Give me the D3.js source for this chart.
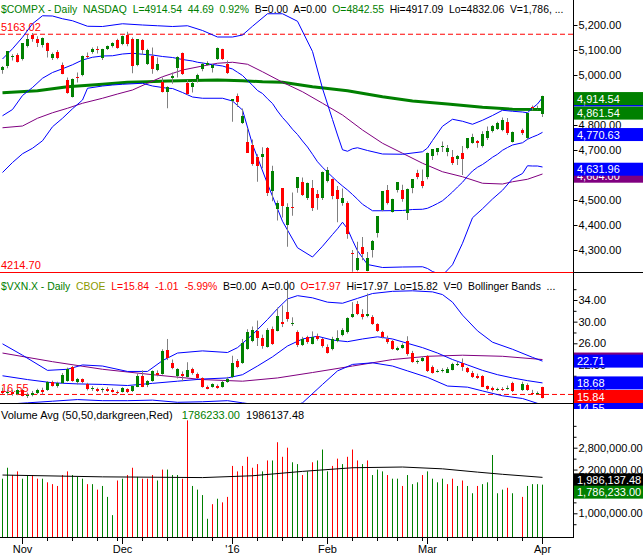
<!DOCTYPE html>
<html><head><meta charset="utf-8">
<script src="https://cdnjs.cloudflare.com/ajax/libs/d3/7.8.5/d3.min.js"></script>
<style>
html,body{margin:0;padding:0;background:#fff;}
svg{display:block;}
text{font-family:"Liberation Sans",Arial,sans-serif;white-space:pre;}
</style></head><body>
<svg id="chart" width="643" height="555"></svg>
<script>
// ---------- categories (trading-day slots) ----------
const dates = [
"2015-10-27","2015-10-28","2015-10-29","2015-10-30",
"2015-11-02","2015-11-03","2015-11-04","2015-11-05","2015-11-06",
"2015-11-09","2015-11-10","2015-11-11","2015-11-12","2015-11-13",
"2015-11-16","2015-11-17","2015-11-18","2015-11-19","2015-11-20",
"2015-11-23","2015-11-24","2015-11-25","2015-11-27","2015-11-30",
"2015-12-01","2015-12-02","2015-12-03","2015-12-04",
"2015-12-07","2015-12-08","2015-12-09","2015-12-10","2015-12-11",
"2015-12-14","2015-12-15","2015-12-16","2015-12-17","2015-12-18",
"2015-12-21","2015-12-22","2015-12-23","2015-12-24",
"2015-12-28","2015-12-29","2015-12-30","2015-12-31",
"2016-01-04","2016-01-05","2016-01-06","2016-01-07","2016-01-08",
"2016-01-11","2016-01-12","2016-01-13","2016-01-14","2016-01-15",
"2016-01-19","2016-01-20","2016-01-21","2016-01-22",
"2016-01-25","2016-01-26","2016-01-27","2016-01-28","2016-01-29",
"2016-02-01","2016-02-02","2016-02-03","2016-02-04","2016-02-05",
"2016-02-08","2016-02-09","2016-02-10","2016-02-11","2016-02-12",
"2016-02-16","2016-02-17","2016-02-18","2016-02-19",
"2016-02-22","2016-02-23","2016-02-24","2016-02-25","2016-02-26",
"2016-02-29",
"2016-03-01","2016-03-02","2016-03-03","2016-03-04",
"2016-03-07","2016-03-08","2016-03-09","2016-03-10","2016-03-11",
"2016-03-14","2016-03-15","2016-03-16","2016-03-17","2016-03-18",
"2016-03-21","2016-03-22","2016-03-23","2016-03-24","2016-03-25",
"2016-03-28","2016-03-29","2016-03-30","2016-03-31",
"2016-04-01"];
const monthTickDates = ["2015-11-02","2015-12-01","2016-01-04","2016-02-01","2016-03-01","2016-04-01"];
const monthTickLabels = ["Nov","Dec","'16","Feb","Mar","Apr"];

// ---------- $COMPX OHLC ----------
const compxOpen = [5020,5035,5073,5082, 5065,5115,5160,5143,5120, 5127,5070,5093,5040,4980, 4914,4991,5000,5077,5093, 5104,5067,5103,5116,5140,
5124,5160,5144,5040, 5140,5043,5076,5020,4973, 4933,4990,5027,5087,4967, 4953,4983,5023,5042, 5030,5063,5103,5044,
4897,4916,4809,4733,4720, 4673,4673,4707,4537,4464, 4547,4400,4473,4547, 4573,4507,4547,4525,4507,
4577,4583,4540,4487,4489, 4290,4220,4313,4218,4300, 4367,4460,4540,4453, 4540,4540,4447,4547,4609, 4577,
4591,4676,4693,4715, 4694,4673,4664,4687,4707, 4729,4736,4716,4747,4777, 4783,4780,4813,4733,null, 4779,4750,4874,4868, 4842.55];
const compxHigh = [5036,5096,5083,5087, 5128,5160,5168,5155,5150, 5130,5090,5100,5050,4990, 4986,5010,5078,5090,5110, 5115,5105,5118,5131,5145,
5158,5173,5150,5143, 5143,5105,5110,5070,4990, 4955,5010,5075,5090,4980, 4975,5005,5050,5055, 5045,5110,5105,5058,
4903,4926,4866,4788,4742, 4683,4711,4712,4637,4498, 4547,4487,4530,4592, 4590,4570,4580,4540,4614,
4632,4586,4556,4546,4495, 4300,4333,4352,4292,4340, 4436,4535,4560,4505, 4572,4561,4546,4583,4621, 4622,
4690,4704,4707,4734, 4720,4700,4680,4716,4748, 4765,4740,4775,4794,4800, 4813,4830,4828,4774,null, 4786,4849,4878,4877, 4917.09];
const compxLow = [5005,5027,5058,5050, 5058,5110,5133,5112,5110, 5070,5060,5063,5003,4925, 4910,4970,4995,5066,5085, 5086,5060,5100,5110,5105,
5119,5115,5007,5035, 5080,5040,5005,5015,4930, 4867,4965,4990,5000,4920, 4930,4970,5015,5038, 5010,5060,5060,5004,
4813,4872,4804,4688,4637, 4573,4627,4516,4495,4418, 4430,4313,4437,4529, 4516,4500,4456,4461,4500,
4570,4503,4411,4477,4345, 4213,4215,4259,4215,4270, 4350,4455,4482,4450, 4530,4493,4420,4527,4583, 4547,
4583,4660,4679,4692, 4675,4640,4640,4600,4703, 4725,4709,4710,4740,4770, 4780,4775,4760,4730,null, 4760,4742,4859,4862, 4832.06];
const compxClose = [5030.15,5095.69,5074.27,5053.75, 5127.15,5145.13,5142.48,5127.74,5147.12, 5095.30,5083.24,5067.02,5005.08,4927.88,
4984.62,4986.02,5075.20,5073.64,5104.92, 5102.48,5102.81,5116.14,5127.52,5108.67,
5156.31,5123.22,5037.53,5142.27, 5101.81,5098.24,5022.87,5045.17,4933.47, 4952.23,4995.13,5071.13,5002.55,4923.08,
4968.92,5001.11,5045.93,5048.49, 5040.99,5107.94,5065.85,5007.41,
4903.09,4891.43,4835.76,4689.43,4643.63, 4637.99,4685.92,4526.06,4615.00,4488.42, 4476.95,4471.69,4472.06,4591.18,
4518.49,4567.67,4468.17,4506.68,4613.95,
4620.37,4516.95,4504.24,4509.56,4363.14, 4283.59,4268.76,4283.75,4266.84,4337.51, 4435.96,4534.06,4487.54,4504.43,
4570.61,4503.58,4542.61,4582.21,4590.47, 4557.95,
4689.60,4703.42,4707.42,4717.02, 4708.25,4648.82,4674.38,4662.16,4748.47, 4750.28,4728.67,4763.97,4774.99,4795.65,
4808.87,4821.66,4768.86,4773.50,null, 4766.79,4846.62,4869.29,4869.85, 4914.54];

// overlays: [slot, value]
const compxBBUpper = [[0,5064],[2,5105],[4,5151],[6,5205],[8,5237],[10,5236],[12,5225],[14,5217],[17,5195],[20,5194],[24,5205],[28,5200],[31,5197],[34,5194],[37,5197],[40,5178],[43,5152],[46,5152],[48,5160],[50,5195],[53,5245],[56,5245],[59,5215],[62,5094],[64,4946],[66,4822],[67,4760],[68,4701],[69,4695],[70,4705],[71,4709],[73,4698],[76,4684],[80,4683],[84,4693],[85,4708],[86,4738],[88,4795],[90,4823],[92,4815],[94,4803],[96,4819],[98,4838],[100,4859],[102,4855],[104,4852],[105,4849],[106,4868],[107,4884],[108,4910]];
const compxBBMid = [[0,4837],[2,4862],[4,4918],[6,4950],[8,4987],[10,5010],[12,5025],[14,5041],[16,5060],[18,5071],[20,5076],[22,5077],[24,5084],[26,5087],[28,5083],[30,5080],[32,5074],[34,5070],[36,5062],[38,5056],[39,5051],[41,5045],[44,5036],[46,5024],[47,5011],[48,4998],[49,4978],[50,4959],[51,4938],[52,4926],[53,4905],[54,4886],[55,4856],[56,4830],[57,4808],[58,4783],[59,4762],[60,4736],[61,4712],[62,4683],[63,4653],[64,4631],[65,4611],[66,4592],[67,4573],[68,4556],[69,4540],[70,4522],[71,4503],[72,4483],[73,4470],[74,4457],[76,4457],[80,4458],[82,4462],[84,4463],[85,4467],[86,4476],[87,4486],[88,4497],[89,4514],[90,4532],[91,4552],[92,4571],[93,4595],[94,4616],[95,4631],[96,4642],[97,4656],[98,4671],[99,4683],[100,4699],[101,4710],[102,4720],[104,4729],[105,4743],[106,4752],[107,4760],[108,4770.63]];
const compxBBLower = [[0,4610],[2,4650],[4,4685],[6,4707],[8,4737],[10,4793],[12,4827],[14,4865],[16,4900],[17,4947],[20,4956],[22,4960],[24,4963],[28,4967],[30,4956],[33,4947],[34,4946],[36,4930],[38,4912],[40,4907],[44,4907],[46,4896],[48,4860],[50,4722],[53,4565],[56,4415],[59,4309],[62,4272],[64,4315],[66,4362],[67,4385],[68,4411],[69,4385],[70,4339],[71,4297],[73,4242],[76,4230],[80,4232],[84,4233],[85,4226],[86,4214],[88,4199],[90,4241],[92,4327],[94,4429],[96,4465],[98,4504],[100,4539],[102,4585],[104,4606],[105,4637],[106,4636],[107,4636],[108,4631.96]];
const compxSMA50 = [[0,4789],[4,4796],[7,4827],[10,4849],[13,4867],[16,4887],[20,4907],[23,4924],[26,4940],[29,4967],[32,4993],[36,5020],[40,5036],[43,5047],[46,5051],[49,5043],[52,5013],[56,4971],[60,4933],[64,4887],[68,4840],[72,4780],[76,4727],[80,4687],[84,4647],[88,4613],[92,4593],[96,4567],[100,4564],[102,4573],[105,4583],[108,4604]];
const compxSMA200 = [[0,4929],[7,4937],[13,4953],[20,4963],[25,4971],[29,4973],[33,4976],[43,4980],[48,4977],[52,4973],[56,4971],[62,4953],[69,4937],[76,4913],[82,4896],[89,4884],[96,4871],[102,4863],[108,4861.54]];
const compxMarks = {high:5163.02, low:4214.70};

// ---------- $VXN.X OHLC ----------
const vxnOpen = [17.2,16.9,17.0,16.6,17.3,16.3,16.4,16.8,17.4,17.3, 18.8,18.2,18.6,19.0,21.6,18.8,19.4,18.5,17.6,17.6,
17.4,17.6,17.3,17.0,17.0,17.6,17.2,18.0,20.0,18.3, 19.0,20.6,20.3,24.8,22.3,19.9,20.3,19.8,21.3,20.4,
19.5,17.9,18.0,18.2,17.9,18.9,19.7,22.8,22.4,25.0, 26.5,28.2,27.0,25.4,28.6,28.3,30.0,31.7,29.6,28.0,
25.6,27.2,25.9,27.4,26.8,25.4,24.9,26.5,27.6,28.0, 30.9,33.2,31.5,31.0,30.9,29.5,28.1,26.8,26.4,24.8,
25.2,26.5,24.3,22.5,22.8,23.6,21.6,20.8,20.9,20.6, 21.1,22.1,22.3,21.4,20.6,19.9,19.9,18.1,17.8,17.3,
17.6,17.5,18.7,null,17.3,18.3,16.9,16.7,17.97];
const vxnHigh = [17.8,17.5,17.4,17.6,17.6,16.9,17.2,17.6,17.8,19.0, 19.1,18.9,20.5,21.5,21.8,19.6,19.5,18.7,18.1,17.8,
17.8,17.9,17.7,17.3,17.9,17.7,18.2,20.4,21.0,19.2, 21.0,21.0,24.9,26.8,23.0,21.4,20.8,22.5,21.5,20.6,
19.7,18.2,18.6,18.4,19.1,19.8,23.7,23.1,26.8,28.6, 29.1,30.2,27.6,28.8,29.1,32.6,33.0,37.6,30.8,28.4,
27.2,27.4,28.2,27.8,27.0,25.8,27.2,28.4,28.8,30.8, 33.6,33.8,32.3,35.2,31.2,29.7,28.3,27.4,26.6,25.4,
26.0,27.3,24.6,23.0,23.6,23.8,21.9,21.2,21.4,21.6, 22.4,22.6,23.2,21.6,20.9,20.4,20.1,18.2,18.0,17.8,
17.9,18.2,18.9,null,18.9,18.6,17.4,17.1,17.97];
const vxnLow = [16.6,16.4,16.3,16.4,16.2,15.9,16.2,16.6,16.6,17.2, 18.0,17.8,18.5,18.9,18.9,18.4,18.6,17.3,17.2,17.0,
16.9,17.0,16.9,16.6,16.9,16.8,17.0,17.9,17.9,17.9, 18.9,19.9,20.2,22.9,21.2,19.5,19.0,19.7,20.2,19.4,
17.8,17.5,17.8,17.6,17.8,18.7,19.6,21.4,22.2,24.8, 26.2,25.5,25.0,25.2,25.7,28.2,29.0,30.0,29.2,25.3,
25.5,25.9,25.8,26.5,25.2,24.1,24.7,26.2,27.3,27.8, 30.7,31.2,30.4,30.8,29.4,28.1,26.9,25.9,24.8,24.6,
25.0,23.7,22.4,22.2,22.6,20.7,20.4,20.6,20.6,20.5, 21.0,21.8,20.9,20.5,19.6,19.4,17.9,17.3,17.1,17.2,
17.2,17.4,17.0,null,17.2,17.2,16.7,16.6,15.82];
const vxnClose = [16.9,17.0,16.6,17.3,16.3,16.4,16.8,17.4,17.0,18.9, 18.2,18.6,20.2,21.2,19.0,19.4,18.8,17.5,17.8,17.2,
17.5,17.1,17.0,16.9,17.7,17.0,18.1,20.0,18.0,19.0, 20.8,20.2,24.5,23.2,21.5,21.2,20.0,21.0,20.5,19.6,
17.9,17.6,18.4,17.8,18.9,19.4,22.4,21.6,26.0,28.0, 28.4,27.0,25.5,28.5,25.8,31.0,29.5,30.5,29.8,25.6,
26.8,26.3,27.2,26.8,25.5,24.3,26.8,27.0,28.5,30.6, 31.4,31.4,30.9,31.5,29.6,28.3,27.1,26.2,25.0,25.1,
25.7,24.0,22.6,22.7,23.2,20.9,20.6,20.9,21.0,21.2, 22.2,22.1,21.6,20.7,19.8,19.6,18.0,17.5,17.3,17.5,
17.4,17.8,17.1,null,18.5,17.3,16.8,16.85,15.84];
const vxnBBUpper = [[0,25.9],[4,23.8],[9,21.0],[13,21.2],[16,22.0],[20,21.8],[25,20.8],[29,20.8],[32,22.8],[35,24.2],[40,24.6],[45,24.3],[47,25.2],[50,27.6],[53,30.4],[55,32.4],[57,34.2],[59,34.8],[62,34.4],[65,33.6],[68,33.4],[71,34.3],[74,35.2],[78,35.6],[82,35.7],[86,35.5],[88,35.0],[90,33.6],[92,31.2],[95,28.3],[98,26.2],[102,24.9],[106,23.4],[108,22.71]];
const vxnBBMid = [[0,20.0],[5,19.3],[10,18.7],[15,18.5],[20,18.4],[25,18.2],[30,18.6],[35,19.0],[40,19.4],[45,19.6],[48,20.2],[51,21.8],[54,23.5],[57,25.5],[60,26.8],[63,27.3],[66,26.6],[69,26.3],[72,26.8],[75,27.2],[78,26.8],[81,26.0],[84,25.2],[87,24.2],[90,23.0],[93,22.0],[96,21.0],[99,20.2],[102,19.6],[105,19.1],[108,18.68]];
const vxnBBLower = [[0,14.7],[5,15.0],[10,15.3],[15,15.6],[20,15.4],[25,15.4],[30,15.5],[35,15.1],[40,15.2],[45,15.4],[48,15.0],[51,14.6],[54,14.2],[57,14.1],[60,15.0],[64,18.4],[67,20.9],[70,22.1],[74,22.4],[78,21.8],[81,20.9],[85,19.7],[89,18.1],[93,17.9],[96,17.2],[100,16.3],[104,15.8],[108,14.6]];
const vxnSMA50 = [[0,24.2],[10,22.6],[20,21.2],[30,20.2],[40,19.3],[48,19.0],[55,19.6],[62,20.6],[70,21.8],[78,23.0],[85,23.6],[92,23.8],[100,23.6],[108,23.0]];
const vxnMark = 16.55;
const vxnLowerBandLabel = 14.55;

// ---------- $COMPX volume ----------
const volume = [1950000,2250000,2050000,2150000,
1950000,2050000,2050000,1950000,1950000, 1850000,1800000,1750000,2050000,2150000,
2050000,2000000,1950000,1800000,1800000, 1650000,1750000,1450000,950000,1900000,
1950000,2050000,2250000,2000000, 1950000,1950000,2050000,1900000,2200000,
2200000,2050000,2050000,1950000,3550000, 1750000,1650000,1500000,850000,
1250000,1400000,1300000,1450000,
2300000,2150000,2300000,2550000,2250000, 2350000,2150000,2450000,2450000,2950000,
2550000,2800000,2400000,2350000, 2050000,2150000,2400000,2450000,2750000,
2150000,2300000,2500000,2350000,2550000, 2750000,2450000,2350000,2450000,2050000,
2200000,2150000,2050000,1950000, 1950000,1750000,2050000,1800000,1850000, 2050000,
2150000,1950000,1850000,1950000, 1800000,1950000,1750000,1900000,1750000,
1550000,1750000,1800000,1850000,2600000, 1550000,1650000,1700000,1550000,null,
1450000,1750000,1800000,1800000,1786233];
const volumeAvg50 = [[0,2050000],[20,2000000],[40,1980000],[50,2030000],[60,2150000],[70,2250000],[80,2270000],[88,2220000],[95,2130000],[100,2070000],[108,1986137.48]];

// ---------- axis ticks ----------
const priceTicks = [5200,5100,5000,4900,4800,4700,4600,4500,4400,4300];
const vxnTicks = [34,30,26,22,18];
const vxnMinorTicks = [36,32,28,24,20,16];
const volTicks = [2800000,2200000,1600000,1000000];
const volMinorTicks = [3400000,3100000,2500000,1900000,1300000,700000];

// ================= drawing =================
const GREEN = "#008000", RED = "#ff0000", BLUE = "#0000ff", PURPLE = "#800080", WICK = "#808080";
const svg = d3.select("#chart");
const AXIS_X = 573.5;
const FS = 11, HFS = 10.4;

const x = d3.scaleLinear().domain([0, dates.length - 1]).range([2, 542]);
const yP = d3.scaleLinear().domain([4300, 5200]).range([250, 25]);
const yV = d3.scaleLinear().domain([26, 34]).range([343.3, 300]);
const yQ = d3.scaleLinear().domain([1000000, 2800000]).range([513.3, 447.7]);

const panels = {p1:[0,272], p2:[273,403], p3:[404,537], box2:[273,409]};
const defs = svg.append("defs");
Object.entries(panels).forEach(([id,[a,b]]) => {
  defs.append("clipPath").attr("id","clip-"+id).append("rect").attr("x",0).attr("y",a).attr("width",643).attr("height",b-a);
});
const g1 = svg.append("g").attr("clip-path","url(#clip-p1)");
const g2 = svg.append("g").attr("clip-path","url(#clip-p2)");
const g3 = svg.append("g").attr("clip-path","url(#clip-p3)");

function drawLine(g, pts, y, color, width) {
  g.append("path").datum(pts)
    .attr("d", d3.line().x(d => x(d[0]) + 0.5).y(d => y(d[1])))
    .attr("fill","none").attr("stroke",color).attr("stroke-width",width)
    .attr("stroke-linejoin","round");
}
function drawCandles(g, O, Hh, L, C, y) {
  const idx = d3.range(dates.length).filter(i => C[i] != null);
  g.append("g").selectAll("line").data(idx).join("line")
    .attr("x1", i => x(i) + 0.5).attr("x2", i => x(i) + 0.5)
    .attr("y1", i => y(Hh[i])).attr("y2", i => y(L[i]))
    .attr("stroke", WICK).attr("stroke-width", 1);
  g.append("g").selectAll("rect").data(idx).join("rect")
    .attr("x", i => x(i) - 1).attr("width", 3)
    .attr("y", i => Math.min(y(O[i]), y(C[i])))
    .attr("height", i => Math.max(1, Math.abs(y(O[i]) - y(C[i]))))
    .attr("fill", i => C[i] >= O[i] ? GREEN : RED)
    .attr("shape-rendering","crispEdges");
}
function dashed(g, yPix, color) {
  g.append("line").attr("x1",0).attr("x2",573).attr("y1",yPix).attr("y2",yPix)
    .attr("stroke",color).attr("stroke-width",1).attr("stroke-dasharray","5,3");
}
function label(g, xx, yy, txt, color, size) {
  return g.append("text").attr("x",xx).attr("y",yy).attr("font-size",size || FS)
    .attr("fill",color).text(txt);
}

// ---- panel 1: $COMPX ----
label(g1, 1, 31, compxMarks.high.toFixed(2), RED);
label(g1, 1, 269, compxMarks.low.toFixed(2), RED);
dashed(g1, yP(compxMarks.high), RED);
drawLine(g1, compxSMA200, yP, GREEN, 3);
drawLine(g1, compxSMA50, yP, PURPLE, 1);
drawLine(g1, compxBBUpper, yP, BLUE, 1);
drawLine(g1, compxBBMid, yP, BLUE, 1);
drawLine(g1, compxBBLower, yP, BLUE, 1);
drawCandles(g1, compxOpen, compxHigh, compxLow, compxClose, yP);

// ---- panel 2: $VXN.X ----
label(g2, 1, 392, vxnMark.toFixed(2), RED);
dashed(g2, yV(vxnMark), RED);
drawLine(g2, vxnSMA50, yV, PURPLE, 1);
drawLine(g2, vxnBBUpper, yV, BLUE, 1);
drawLine(g2, vxnBBMid, yV, BLUE, 1);
drawLine(g2, vxnBBLower, yV, BLUE, 1);
drawCandles(g2, vxnOpen, vxnHigh, vxnLow, vxnClose, yV);

// ---- panel 3: volume ----
const vIdx = d3.range(dates.length).filter(i => volume[i] != null);
g3.append("g").selectAll("line").data(vIdx).join("line")
  .attr("x1", i => x(i) + 0.5).attr("x2", i => x(i) + 0.5)
  .attr("y1", i => yQ(volume[i])).attr("y2", 537)
  .attr("stroke", i => {
    let p = i - 1; while (p >= 0 && compxClose[p] == null) p--;
    const ref = p >= 0 ? compxClose[p] : compxOpen[i];
    return compxClose[i] >= ref ? GREEN : RED;
  }).attr("stroke-width",1);
drawLine(g3, volumeAvg50, yQ, "#000", 1);

// ---- headers ----
function header(yy, parts, size) {
  const t = svg.append("text").attr("x",1).attr("y",yy).attr("font-size",size);
  parts.forEach(([s,c]) => t.append("tspan").attr("fill",c).text(s));
}
header(13, [["$COMPX - Daily",GREEN],["  NASDAQ",GREEN],["  L=4914.54  44.69  0.92%",GREEN],["  B=0.00  A=0.00","#000"],["  O=4842.55",GREEN],["  Hi=4917.09  Lo=4832.06  V=1,786, ...","#000"]], HFS);
header(290, [["$VXN.X - Daily",GREEN],["  CBOE","#8c9a00"],["  L=15.84  -1.01  -5.99%",RED],["  B=0.00  A=0.00","#000"],["  O=17.97",RED],["  Hi=17.97  Lo=15.82  V=0  Bollinger Bands  ...","#000"]], HFS);
header(419, [["Volume Avg (50,50,darkgreen,Red)","#000"],["   1786233.00",GREEN],["  1986137.48","#000"]], FS);

// ---- frame lines ----
svg.append("line").attr("x1",AXIS_X).attr("x2",AXIS_X).attr("y1",0).attr("y2",538).attr("stroke","#000");
// price-panel floor: the red low-mark line sits on the panel border
svg.append("line").attr("x1",0).attr("x2",AXIS_X).attr("y1",272.5).attr("y2",272.5).attr("stroke",RED);
svg.append("line").attr("x1",AXIS_X).attr("x2",643).attr("y1",272.5).attr("y2",272.5).attr("stroke","#000");
svg.append("line").attr("x1",0).attr("x2",643).attr("y1",403.5).attr("y2",403.5).attr("stroke","#000");
svg.append("line").attr("x1",0).attr("x2",AXIS_X).attr("y1",537.5).attr("y2",537.5).attr("stroke","#000");

// ---- right axes ----
function rightAxis(scale, ticks, fmt, size) {
  const ax = d3.axisRight(scale).tickValues(ticks).tickSize(size).tickPadding(1).tickFormat(fmt);
  const g = svg.append("g").attr("transform",`translate(${AXIS_X},0)`).call(ax);
  g.select(".domain").remove();
  g.attr("font-size",FS).attr("font-family","Liberation Sans, Arial, sans-serif");
  g.selectAll("text").attr("fill","#000");
  return g;
}
rightAxis(yP, priceTicks, d3.format(",.2f"), 4);
rightAxis(yV, vxnTicks, d3.format(",.2f"), 4);
rightAxis(yV, vxnMinorTicks, () => "", 3);
rightAxis(yQ, volTicks, d3.format(",.2f"), 4);
rightAxis(yQ, volMinorTicks, () => "", 3);

// ---- value boxes ----
function valueBox(yPix, txt, bg, clip) {
  const g = svg.append("g");
  if (clip) g.attr("clip-path", "url(#clip-" + clip + ")");
  g.append("rect").attr("x",574).attr("y",yPix).attr("width",69).attr("height",13).attr("fill",bg);
  g.append("text").attr("x",577).attr("y",yPix+10.5).attr("font-size",FS).attr("fill","#fff").text(txt);
}
const f2 = d3.format(",.2f");
const lastOf = a => a[a.length-1][1];
valueBox(yP(lastOf(compxBBUpper)) - 4, f2(lastOf(compxBBUpper)), BLUE);
valueBox(yP(compxClose[108]) - 4.3, f2(compxClose[108]), GREEN);
valueBox(yP(lastOf(compxSMA200)) - 3, f2(lastOf(compxSMA200)), GREEN);
valueBox(yP(lastOf(compxBBMid)) - 4.3, f2(lastOf(compxBBMid)), BLUE);
valueBox(yP(lastOf(compxSMA50)) - 4.3, f2(lastOf(compxSMA50)), PURPLE);
valueBox(yP(lastOf(compxBBLower)) - 4.3, f2(lastOf(compxBBLower)), BLUE);

valueBox(yV(lastOf(vxnSMA50)) - 7, f2(lastOf(vxnSMA50)), PURPLE);
valueBox(yV(lastOf(vxnBBUpper)) - 6.5, f2(lastOf(vxnBBUpper)), BLUE);
valueBox(yV(vxnLowerBandLabel) - 4, f2(vxnLowerBandLabel), BLUE, "box2");
valueBox(yV(lastOf(vxnBBMid)) - 6.5, f2(lastOf(vxnBBMid)), BLUE);
valueBox(390, f2(vxnClose[108]), RED);

valueBox(yQ(lastOf(volumeAvg50)) - 4, f2(lastOf(volumeAvg50)), "#000");
valueBox(yQ(volume[108]) + 1, f2(volume[108]), GREEN);

// ---- bottom axis ----
const parse = d3.timeParse("%Y-%m-%d");
const dObjs = dates.map(parse);
const weekStarts = d3.range(dates.length).filter(i => i > 0 && d3.timeMonday.floor(dObjs[i]) > d3.timeMonday.floor(dObjs[i-1]));
svg.append("g").selectAll("line").data(weekStarts).join("line")
  .attr("x1", i => x(i) + 0.5).attr("x2", i => x(i) + 0.5).attr("y1", 538).attr("y2", 541).attr("stroke","#000");
const mIdx = monthTickDates.map(d => dates.indexOf(d));
svg.append("g").selectAll("line").data(mIdx).join("line")
  .attr("x1", i => x(i) + 0.5).attr("x2", i => x(i) + 0.5).attr("y1", 538).attr("y2", 544).attr("stroke","#000");
svg.append("g").selectAll("text").data(mIdx).join("text")
  .attr("x", i => x(i) + 0.5).attr("y", 553).attr("text-anchor","middle").attr("font-size",FS).attr("fill","#000")
  .text((i,k) => monthTickLabels[k]);
</script></body></html>
